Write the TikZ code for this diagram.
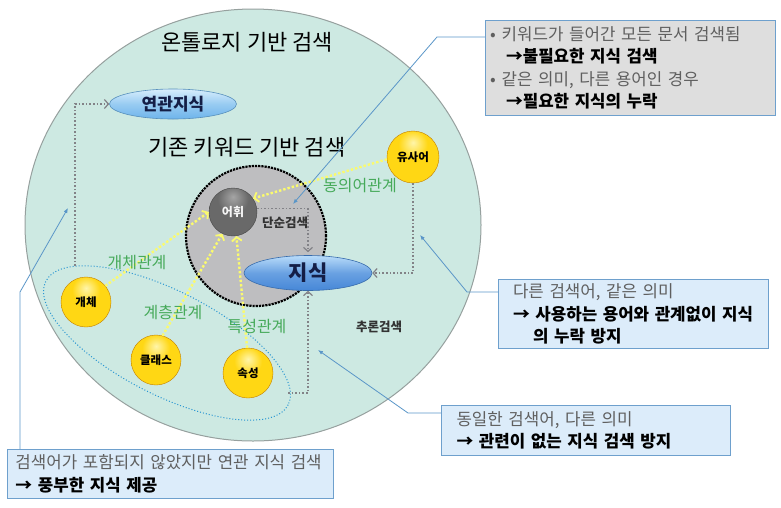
\documentclass[tikz,border=0pt]{standalone}
\usepackage{fontspec}
\setmainfont{Noto Sans CJK KR}
\usetikzlibrary{arrows.meta,shapes.geometric,calc}
\definecolor{outerfill}{RGB}{205,233,226}
\definecolor{outerline}{RGB}{150,160,158}
\definecolor{innerfill}{RGB}{190,190,192}
\definecolor{relgreen}{RGB}{70,170,90}
\definecolor{ylw}{RGB}{250,250,110}
\definecolor{dotgray}{RGB}{130,130,135}
\definecolor{callblue}{RGB}{90,150,200}
\definecolor{boxline}{RGB}{110,160,205}
\definecolor{boxblue}{RGB}{220,236,250}
\definecolor{boxgray}{RGB}{222,222,222}
\definecolor{txtgray}{RGB}{95,95,95}
\definecolor{ellblue}{RGB}{40,150,210}
\definecolor{zsdark}{RGB}{70,135,215}
\definecolor{zslight}{RGB}{185,220,250}
\definecolor{rkdark}{RGB}{110,180,235}
\definecolor{rklight}{RGB}{215,238,252}
\definecolor{navy}{RGB}{20,30,70}
\definecolor{yA}{RGB}{255,245,170}
\definecolor{yB}{RGB}{255,215,20}
\definecolor{yC}{RGB}{240,170,0}
\definecolor{yD}{RGB}{215,140,0}
\definecolor{gA}{RGB}{165,165,165}
\definecolor{gB}{RGB}{105,105,105}
\definecolor{gC}{RGB}{70,70,70}
\pgfdeclareradialshading{ysphere}{\pgfpoint{0bp}{14bp}}{color(0bp)=(yA);color(14bp)=(yB);color(36bp)=(yB);color(48bp)=(yC);color(60bp)=(yD);color(100bp)=(yD)}
\pgfdeclareradialshading{gsphere}{\pgfpoint{0bp}{16bp}}{color(0bp)=(gA);color(16bp)=(gB);color(44bp)=(gB);color(60bp)=(gC);color(100bp)=(gC)}
\begin{document}
\begin{tikzpicture}[x=1pt,y=-1pt,
  sphere/.style={circle,minimum size=50pt,inner sep=0pt,shading=ysphere,draw=yD!90!black,line width=0.4pt,font=\fontsize{11.5}{11.5}\selectfont\bfseries},
  gdot/.style={dotgray,line width=1.6pt,dotted,-{Straight Barb[length=4pt,width=9pt,line width=1.2pt]}},
  yarrow/.style={ylw,line width=2.4pt,dotted,-{Straight Barb[length=4pt,width=10pt,line width=1.8pt]}},
  callout/.style={callblue,line width=0.8pt,-{Latex[length=5pt,width=4pt]}},
  infobox/.style={draw=boxline,line width=1pt,fill=boxblue,anchor=north west,align=left,inner sep=0pt,
     font=\fontsize{16.8}{22.5}\selectfont},
  rel/.style={text=relgreen,font=\fontsize{16}{16}\selectfont},
  title/.style={font=\fontsize{22}{22}\selectfont}
]
\useasboundingbox (0,0) rectangle (781,507);

% outer and inner circles
\node[ellipse,draw=outerline,line width=1pt,fill=outerfill,minimum width=456pt,minimum height=432pt,inner sep=0pt] (outer) at (253,225) {};
\node[circle,draw=black,line width=2.2pt,densely dotted,fill=innerfill,minimum size=140pt,inner sep=0pt] (inner) at (256,236) {};

% blue dotted ellipse
\draw[ellblue,line width=1pt,dotted,rotate around={-27:(167,343)}] (167,343) ellipse [x radius=136, y radius=52];
\coordinate (grpTop) at (75,266);
\coordinate (grpRight) at (288,393);

\node[title] (ttl1) at (247,42) {온톨로지 기반 검색};
\node[title] (ttl2) at (247,147) {기존 키워드 기반 검색};

% nodes
\node[circle,minimum size=48pt,inner sep=0pt,shading=gsphere,draw=gC,line width=0.4pt,text=white!92!gray,font=\fontsize{12}{12}\selectfont\bfseries] (vocab) at (233,212) {어휘};
\node[ellipse,draw=zsdark!80!black,line width=0.6pt,top color=zslight,bottom color=zsdark,middle color=zsdark!70!zslight,minimum width=128pt,minimum height=35pt,inner sep=0pt,text=navy,font=\fontsize{21}{21}\selectfont\bfseries] (know) at (308,273) {지식};
\node[ellipse,draw=rkdark!80!black,line width=0.6pt,top color=rklight,bottom color=rkdark,middle color=rkdark!60!rklight,minimum width=127pt,minimum height=30pt,inner sep=0pt,text=navy,font=\fontsize{17}{17}\selectfont\bfseries] (relk) at (173,104) {연관지식};
\node[sphere,minimum size=52pt] (syn) at (413,157) {유사어};
\node[sphere] (ent) at (86,302) {개체};
\node[sphere] (cls) at (156,360) {클래스};
\node[sphere] (attr) at (248,373) {속성};

% gray dotted connectors
\draw[gdot] (grpTop) |- (relk.west);
\draw[gdot] (vocab.8) -| ([yshift=3pt]know.north);
\draw[gdot] (syn.south) |- (know.east);
\draw[gdot] (grpRight) -| (know.south);

% yellow relation arrows
\draw[yarrow] (syn.185) -- (vocab.34);
\draw[yarrow] (ent.40) -- (vocab.180);
\draw[yarrow] (cls.75) -- (vocab.244);
\draw[yarrow] (attr.92) -- (vocab.278);

% labels
\node[rel] (lent) at (137,263) {개체관계};
\node[rel] (lcls) at (173,312) {계층관계};
\node[rel] (lattr) at (257,326) {특성관계};
\node[rel] (lsyn) at (360,186) {동의어관계};
\node[font=\fontsize{12.5}{12.5}\selectfont\bfseries,text=black!80] (simple) at (285,223) {단순검색};
\node[font=\fontsize{12.5}{12.5}\selectfont\bfseries,text=black!80] (infer) at (379,327) {추론검색};

% info boxes
\node[infobox,fill=boxgray,minimum width=290pt,minimum height=95pt,text width=285pt] (topbox) at (485,20) {%
\hspace*{2pt}{\color{txtgray}\textbullet\hspace{6pt}키워드가 들어간 모든 문서 검색됨}\\
\hspace*{18pt}\textbf{→불필요한 지식 검색}\\
\hspace*{2pt}{\color{txtgray}\textbullet\hspace{6pt}같은 의미, 다른 용어인 경우}\\
\hspace*{18pt}\textbf{→필요한 지식의 누락}};
\node[infobox,minimum width=270pt,minimum height=69pt,text width=265pt] (rbox1) at (498,279) {%
\hspace*{12pt}{\color{txtgray}다른 검색어, 같은 의미}\\
\hspace*{12pt}\textbf{→ 사용하는 용어와 관계없이 지식}\\
\hspace*{32pt}\textbf{의 누락 방지}};
\node[infobox,minimum width=289pt,minimum height=50pt,text width=285pt] (rbox2) at (441,405) {%
\hspace*{13pt}{\color{txtgray}동일한 검색어, 다른 의미}\\
\hspace*{13pt}\textbf{→ 관련이 없는 지식 검색 방지}};
\node[infobox,minimum width=326pt,minimum height=49pt,text width=324pt] (blbox) at (7,449) {%
\hspace*{7pt}{\color{txtgray}검색어가 포함되지 않았지만 연관 지식 검색}\\
\hspace*{7pt}\textbf{→ 풍부한 지식 제공}};

% callouts
\coordinate (t1) at (293,204);
\coordinate (t2) at (420,235);
\coordinate (t3) at (318,350);
\coordinate (t4) at (68,208);
\draw[callout] (topbox.north west) ++(0,17) -- ++(-48,0) -- (t1);
\draw[callout] (rbox1.north west) ++(0,13) -- ++(-31,0) -- (t2);
\draw[callout] (rbox2.north west) ++(0,8) -- ++(-33,0) -- (t3);
\draw[callout] (blbox.north west) ++(13,0) -- ++(0,-157) -- (t4);
\end{tikzpicture}
\end{document}
